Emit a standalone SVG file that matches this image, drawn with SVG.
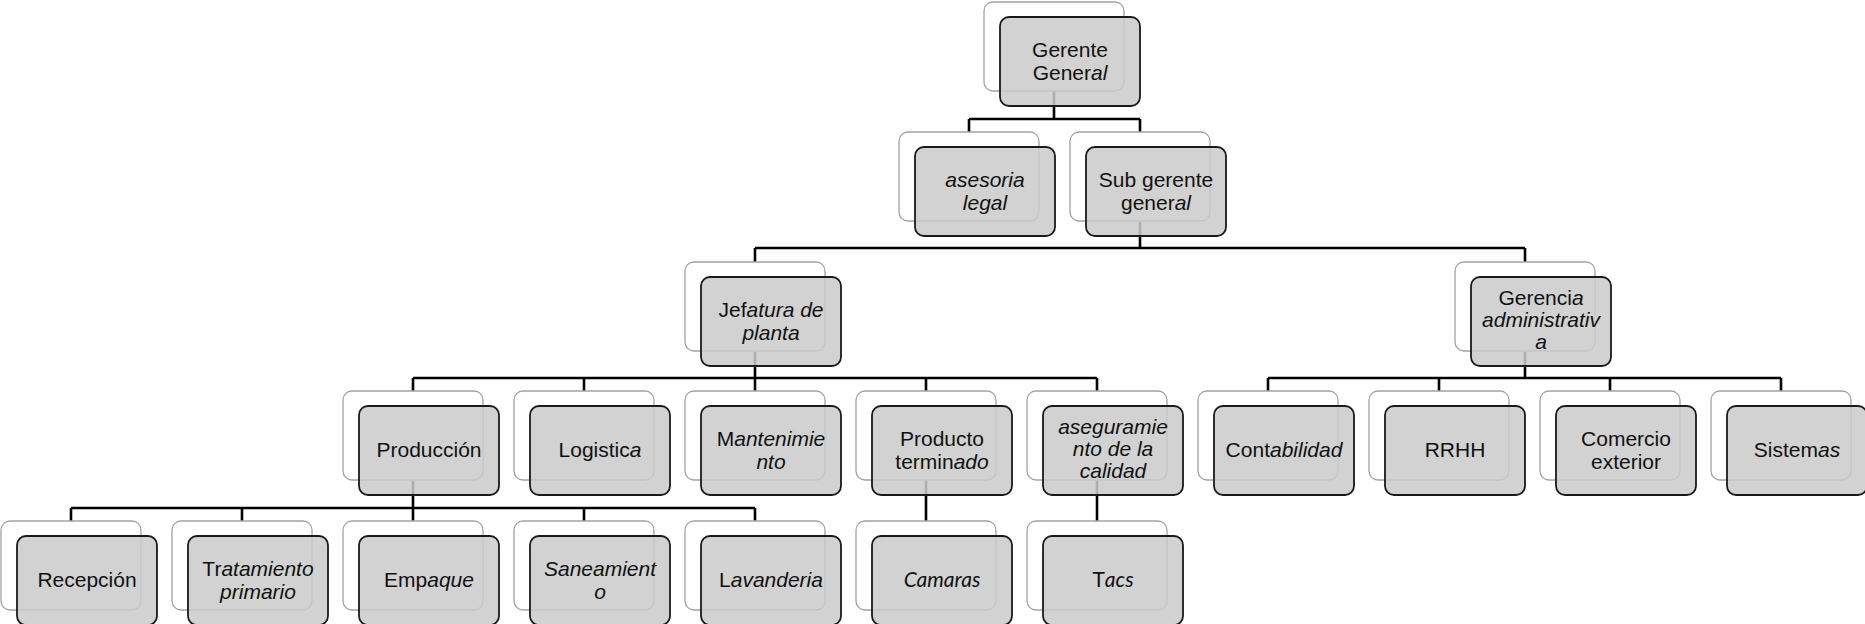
<svg xmlns="http://www.w3.org/2000/svg" width="1865" height="624" viewBox="0 0 1865 624">
<style>
.back{fill:#ffffff;stroke:#a3a3a3;stroke-width:1.3}
.front{fill:#cbcbcb;fill-opacity:0.86;stroke:#1a1a1a;stroke-width:1.8}
.conn{fill:none;stroke:#000;stroke-width:2.6}
.t{font-family:"Liberation Sans",Arial,sans-serif;font-size:21px;fill:#111;text-anchor:middle}
.c{font-family:Lato,"Noto Sans",sans-serif;font-size:21px;fill:#111;text-anchor:middle}
.i{font-style:italic}
</style>
<defs>
<rect id="bk" class="back" x="0" y="0" width="140" height="89" rx="9"/>
<rect id="fr" class="front" x="16" y="15" width="140" height="89" rx="9"/>
</defs>
<g id="connectors">
<path class="conn" d="M1054 91V119M969 119H1140M969 119V132M1140 119V132"/>
<path class="conn" d="M1140 221V248M755 248H1525M755 248V262M1525 248V262"/>
<path class="conn" d="M755 351V378M413 378H1097M413 378V391M584 378V391M755 378V391M926 378V391M1097 378V391"/>
<path class="conn" d="M1525 351V378M1268 378H1781M1268 378V391M1439 378V391M1610 378V391M1781 378V391"/>
<path class="conn" d="M413 480V508M71 508H755M71 508V521M242 508V521M413 508V521M584 508V521M755 508V521"/>
<path class="conn" d="M926 480V521M1097 480V521"/>
</g>
<g id="gerente-general" transform="translate(984,2)"><use href="#bk"/><use href="#fr"/>
<text class="t"><tspan x="86" y="55">Gerente</tspan><tspan x="86" y="78">Gener<tspan class="i">al</tspan></tspan></text></g>
<g id="asesoria-legal" transform="translate(899,132)"><use href="#bk"/><use href="#fr"/>
<text class="t i"><tspan x="86" y="55">asesoria</tspan><tspan x="86" y="78">legal</tspan></text></g>
<g id="sub-gerente" transform="translate(1070,132)"><use href="#bk"/><use href="#fr"/>
<text class="t"><tspan x="86" y="55">Sub gerente</tspan><tspan x="86" y="78">gener<tspan class="i">al</tspan></tspan></text></g>
<g id="jefatura" transform="translate(685,262)"><use href="#bk"/><use href="#fr"/>
<text class="t"><tspan x="86" y="55">Jef<tspan class="i">atura de</tspan></tspan><tspan class="i" x="86" y="78">planta</tspan></text></g>
<g id="gerencia-adm" transform="translate(1455,262)"><use href="#bk"/><use href="#fr"/>
<text class="t"><tspan x="86" y="43">Gerenci<tspan class="i">a</tspan></tspan><tspan class="i" x="86" y="65">administrativ</tspan><tspan class="i" x="86" y="87">a</tspan></text></g>
<g id="produccion" transform="translate(343,391)"><use href="#bk"/><use href="#fr"/>
<text class="t" x="86" y="66">Producción</text></g>
<g id="logistica" transform="translate(514,391)"><use href="#bk"/><use href="#fr"/>
<text class="t" x="86" y="66">Logistic<tspan class="i">a</tspan></text></g>
<g id="mantenimiento" transform="translate(685,391)"><use href="#bk"/><use href="#fr"/>
<text class="t"><tspan x="86" y="55">M<tspan class="i">antenimie</tspan></tspan><tspan class="i" x="86" y="78">nto</tspan></text></g>
<g id="producto-terminado" transform="translate(856,391)"><use href="#bk"/><use href="#fr"/>
<text class="t"><tspan x="86" y="55">Producto</tspan><tspan x="86" y="78">termin<tspan class="i">ado</tspan></tspan></text></g>
<g id="aseguramiento" transform="translate(1027,391)"><use href="#bk"/><use href="#fr"/>
<text class="t i"><tspan x="86" y="43">aseguramie</tspan><tspan x="86" y="65">nto de la</tspan><tspan x="86" y="87">calidad</tspan></text></g>
<g id="contabilidad" transform="translate(1198,391)"><use href="#bk"/><use href="#fr"/>
<text class="t" x="86" y="66">Cont<tspan class="i">abilidad</tspan></text></g>
<g id="rrhh" transform="translate(1369,391)"><use href="#bk"/><use href="#fr"/>
<text class="t" x="86" y="66">RRHH</text></g>
<g id="comercio-exterior" transform="translate(1540,391)"><use href="#bk"/><use href="#fr"/>
<text class="t"><tspan x="86" y="55">Comercio</tspan><tspan x="86" y="78">exterior</tspan></text></g>
<g id="sistemas" transform="translate(1711,391)"><use href="#bk"/><use href="#fr"/>
<text class="t" x="86" y="66">Sistem<tspan class="i">as</tspan></text></g>
<g id="recepcion" transform="translate(1,521)"><use href="#bk"/><use href="#fr"/>
<text class="t" x="86" y="66">Recepción</text></g>
<g id="tratamiento" transform="translate(172,521)"><use href="#bk"/><use href="#fr"/>
<text class="t"><tspan x="86" y="55">Tr<tspan class="i">atamiento</tspan></tspan><tspan class="i" x="86" y="78">primario</tspan></text></g>
<g id="empaque" transform="translate(343,521)"><use href="#bk"/><use href="#fr"/>
<text class="t" x="86" y="66">Emp<tspan class="i">aque</tspan></text></g>
<g id="saneamiento" transform="translate(514,521)"><use href="#bk"/><use href="#fr"/>
<text class="t i"><tspan x="86" y="55">Saneamient</tspan><tspan x="86" y="78">o</tspan></text></g>
<g id="lavanderia" transform="translate(685,521)"><use href="#bk"/><use href="#fr"/>
<text class="t" x="86" y="66">L<tspan class="i">avanderia</tspan></text></g>
<g id="camaras" transform="translate(856,521)"><use href="#bk"/><use href="#fr"/>
<text class="c i" x="86" y="66">Camaras</text></g>
<g id="tacs" transform="translate(1027,521)"><use href="#bk"/><use href="#fr"/>
<text class="c" x="86" y="66">T<tspan class="i">acs</tspan></text></g>
</svg>
